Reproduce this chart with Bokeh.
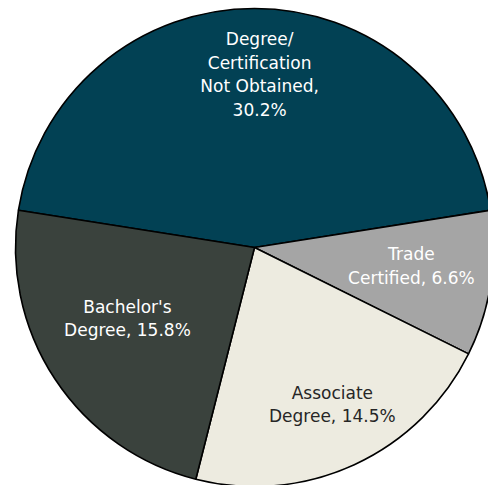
import math
from bokeh.plotting import figure
from bokeh.models import Range1d, ColumnDataSource
from bokeh.core.properties import value
from bokeh.embed import file_html
from bokeh.resources import INLINE

# ---- data (clockwise from the top slice) ----
categories = ["Degree/ Certification Not Obtained", "Trade Certified", "Associate Degree", "Bachelor's Degree"]
values = [30.2, 6.6, 14.5, 15.8]
label_texts = ["Degree/\nCertification\nNot Obtained,\n30.2%",
               "Trade\nCertified, 6.6%",
               "Associate\nDegree, 14.5%",
               "Bachelor's\nDegree, 15.8%"]

# ---- style / layout ----
colors = ["#024154", "#A5A5A5", "#EDEBE0", "#3A423D"]
text_colors = ["#FFFFFF", "#FFFFFF", "#262626", "#FFFFFF"]
label_r = [0.724, 0.661, 0.733, 0.609]       # radial position of labels (fraction of radius)
label_dang = [-1.7, 2.0, 1.7, -4.2]          # angular nudge of labels (degrees)

W, H = 488, 485
cx, cy, R = 254, H - 247, 239

total = sum(values)
shares = [v / total for v in values]
start = math.pi / 2 + shares[0] * math.pi  # first slice centred at top
starts, ends, lx, ly = [], [], [], []
a = start
for s, rf, da in zip(shares, label_r, label_dang):
    b = a - s * 2 * math.pi
    starts.append(b)
    ends.append(a)
    m = (a + b) / 2 + math.radians(da)
    lx.append(cx + rf * R * math.cos(m))
    ly.append(cy + rf * R * math.sin(m))
    a = b

src = ColumnDataSource(dict(cat=categories, val=values, start=starts, end=ends,
                            color=colors, lx=lx, ly=ly, label=label_texts, tcol=text_colors))

p = figure(width=W, height=H, output_backend="svg", toolbar_location=None,
           x_range=Range1d(0, W), y_range=Range1d(0, H),
           min_border=0, outline_line_color=None)
p.axis.visible = False
p.grid.visible = False
p.background_fill_color = "white"
p.border_fill_color = "white"

p.wedge(x=cx, y=cy, radius=R, start_angle="start", end_angle="end",
        fill_color="color", line_color="black", line_width=1.6, source=src)

p.text(x="lx", y="ly", text="label", text_color="tcol", source=src,
       text_align="center", text_baseline="middle",
       text_font=value("DejaVu Sans"), text_font_size="17px", text_line_height=1.17)

open("out.html", "w").write(file_html(p, INLINE))
